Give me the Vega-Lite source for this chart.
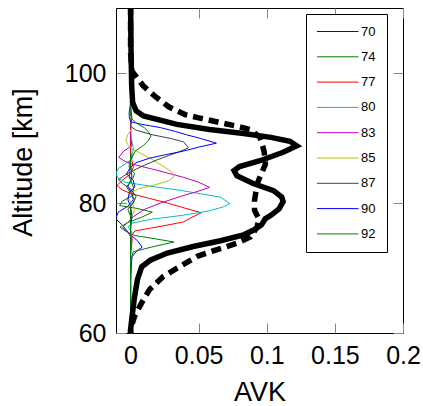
{
  "$schema": "https://vega.github.io/schema/vega-lite/v6.json",
  "width": 287,
  "height": 325,
  "autosize": {"type": "none"},
  "padding": {"left": 116, "top": 8, "right": 20, "bottom": 73},
  "background": "white",
  "config": {"view": {"stroke": "black", "strokeWidth": 1}, "font": "Liberation Sans"},
  "datasets": {
    "kernels": [
      {"k":"70","alt":60,"avk":0},{"k":"70","alt":68,"avk":0},{"k":"70","alt":70,"avk":0.0005},{"k":"70","alt":71.7,"avk":0.001},{"k":"70","alt":72.5,"avk":0.004},{"k":"70","alt":73.2,"avk":0.0085},{"k":"70","alt":74.2,"avk":0.005},{"k":"70","alt":75.3,"avk":-0.001},{"k":"70","alt":76.6,"avk":-0.006},{"k":"70","alt":77.6,"avk":-0.011},{"k":"70","alt":78.6,"avk":-0.009},{"k":"70","alt":79.5,"avk":-0.002},{"k":"70","alt":80.5,"avk":0.002},{"k":"70","alt":81.5,"avk":0.001},{"k":"70","alt":82.5,"avk":-0.002},{"k":"70","alt":84,"avk":0.001},{"k":"70","alt":86,"avk":0},{"k":"70","alt":110,"avk":0},
      {"k":"74","alt":60,"avk":0},{"k":"74","alt":71,"avk":0},{"k":"74","alt":72.5,"avk":0.002},{"k":"74","alt":73.2,"avk":0.015},{"k":"74","alt":74.0,"avk":0.0318},{"k":"74","alt":74.6,"avk":0.015},{"k":"74","alt":75.0,"avk":0.003},{"k":"74","alt":75.7,"avk":-0.004},{"k":"74","alt":76.3,"avk":-0.0077},{"k":"74","alt":77.0,"avk":-0.002},{"k":"74","alt":77.8,"avk":0.008},{"k":"74","alt":78.6,"avk":0.016},{"k":"74","alt":79.2,"avk":0.004},{"k":"74","alt":79.6,"avk":-0.008},{"k":"74","alt":80.3,"avk":-0.006},{"k":"74","alt":81.2,"avk":0.002},{"k":"74","alt":82.5,"avk":0.002},{"k":"74","alt":84,"avk":-0.001},{"k":"74","alt":86,"avk":0},{"k":"74","alt":110,"avk":0},
      {"k":"77","alt":60,"avk":0},{"k":"77","alt":72,"avk":0},{"k":"77","alt":74,"avk":0.001},{"k":"77","alt":75,"avk":0.001},{"k":"77","alt":75.7,"avk":0.003},{"k":"77","alt":76.1,"avk":0.014},{"k":"77","alt":76.6,"avk":0.027},{"k":"77","alt":77.1,"avk":0.039},{"k":"77","alt":77.8,"avk":0.045},{"k":"77","alt":78.5,"avk":0.052},{"k":"77","alt":79.2,"avk":0.040},{"k":"77","alt":80.0,"avk":0.027},{"k":"77","alt":80.7,"avk":0.014},{"k":"77","alt":81.4,"avk":0.001},{"k":"77","alt":82.0,"avk":-0.006},{"k":"77","alt":82.7,"avk":-0.010},{"k":"77","alt":83.5,"avk":-0.006},{"k":"77","alt":84.5,"avk":0},{"k":"77","alt":85.5,"avk":0.002},{"k":"77","alt":86.5,"avk":0.001},{"k":"77","alt":88,"avk":0},{"k":"77","alt":110,"avk":0},
      {"k":"80","alt":60,"avk":0},{"k":"80","alt":74,"avk":0},{"k":"80","alt":75.5,"avk":0.001},{"k":"80","alt":76.3,"avk":-0.002},{"k":"80","alt":76.9,"avk":0.001},{"k":"80","alt":77.5,"avk":0.015},{"k":"80","alt":78.1,"avk":0.038},{"k":"80","alt":78.8,"avk":0.058},{"k":"80","alt":79.4,"avk":0.068},{"k":"80","alt":79.9,"avk":0.073},{"k":"80","alt":80.9,"avk":0.066},{"k":"80","alt":81.9,"avk":0.038},{"k":"80","alt":82.6,"avk":0.014},{"k":"80","alt":83.2,"avk":-0.004},{"k":"80","alt":83.9,"avk":-0.0095},{"k":"80","alt":84.6,"avk":-0.0107},{"k":"80","alt":85.3,"avk":-0.009},{"k":"80","alt":86.0,"avk":-0.004},{"k":"80","alt":86.8,"avk":0.001},{"k":"80","alt":88.5,"avk":0.002},{"k":"80","alt":90,"avk":0.0005},{"k":"80","alt":91.5,"avk":0},{"k":"80","alt":110,"avk":0},
      {"k":"83","alt":60,"avk":0},{"k":"83","alt":73,"avk":0},{"k":"83","alt":74.5,"avk":0.001},{"k":"83","alt":75.5,"avk":-0.002},{"k":"83","alt":76.2,"avk":-0.006},{"k":"83","alt":76.8,"avk":-0.003},{"k":"83","alt":77.9,"avk":0.002},{"k":"83","alt":79.0,"avk":0.010},{"k":"83","alt":80.0,"avk":0.022},{"k":"83","alt":81.1,"avk":0.038},{"k":"83","alt":81.7,"avk":0.048},{"k":"83","alt":82.4,"avk":0.058},{"k":"83","alt":83.2,"avk":0.050},{"k":"83","alt":84.0,"avk":0.038},{"k":"83","alt":85.0,"avk":0.020},{"k":"83","alt":86.0,"avk":0.001},{"k":"83","alt":86.4,"avk":-0.004},{"k":"83","alt":87.0,"avk":-0.0087},{"k":"83","alt":88.0,"avk":-0.005},{"k":"83","alt":88.8,"avk":0.001},{"k":"83","alt":90,"avk":0},{"k":"83","alt":110,"avk":0},
      {"k":"85","alt":60,"avk":0},{"k":"85","alt":77,"avk":0},{"k":"85","alt":78,"avk":0.001},{"k":"85","alt":79,"avk":0.003},{"k":"85","alt":80,"avk":0.001},{"k":"85","alt":80.8,"avk":-0.002},{"k":"85","alt":81.6,"avk":0},{"k":"85","alt":82.2,"avk":0.006},{"k":"85","alt":82.8,"avk":0.018},{"k":"85","alt":83.4,"avk":0.028},{"k":"85","alt":84.1,"avk":0.032},{"k":"85","alt":84.8,"avk":0.030},{"k":"85","alt":85.8,"avk":0.023},{"k":"85","alt":86.8,"avk":0.015},{"k":"85","alt":87.8,"avk":0.006},{"k":"85","alt":88.3,"avk":0.001},{"k":"85","alt":89,"avk":-0.002},{"k":"85","alt":89.6,"avk":-0.0035},{"k":"85","alt":90.5,"avk":-0.002},{"k":"85","alt":91.5,"avk":0.001},{"k":"85","alt":93,"avk":0},{"k":"85","alt":110,"avk":0},
      {"k":"87","alt":60,"avk":0},{"k":"87","alt":78,"avk":0},{"k":"87","alt":79,"avk":-0.002},{"k":"87","alt":80,"avk":0.002},{"k":"87","alt":81,"avk":0.004},{"k":"87","alt":82.2,"avk":0},{"k":"87","alt":83.0,"avk":-0.006},{"k":"87","alt":83.6,"avk":-0.009},{"k":"87","alt":84.3,"avk":-0.004},{"k":"87","alt":85.0,"avk":0.002},{"k":"87","alt":85.8,"avk":0.010},{"k":"87","alt":86.6,"avk":0.019},{"k":"87","alt":87.3,"avk":0.028},{"k":"87","alt":87.9,"avk":0.036},{"k":"87","alt":88.5,"avk":0.0425},{"k":"87","alt":89.4,"avk":0.039},{"k":"87","alt":89.9,"avk":0.030},{"k":"87","alt":90.5,"avk":0.016},{"k":"87","alt":91.2,"avk":0.004},{"k":"87","alt":91.8,"avk":0},{"k":"87","alt":93,"avk":0.001},{"k":"87","alt":95,"avk":0},{"k":"87","alt":110,"avk":0},
      {"k":"90","alt":60,"avk":0},{"k":"90","alt":76,"avk":0},{"k":"90","alt":78,"avk":0.001},{"k":"90","alt":79.5,"avk":0},{"k":"90","alt":80.5,"avk":-0.002},{"k":"90","alt":81.5,"avk":-0.001},{"k":"90","alt":82.5,"avk":0.003},{"k":"90","alt":83.5,"avk":0.002},{"k":"90","alt":84.5,"avk":-0.003},{"k":"90","alt":85.5,"avk":0},{"k":"90","alt":86.2,"avk":0.004},{"k":"90","alt":86.9,"avk":0.014},{"k":"90","alt":87.4,"avk":0.025},{"k":"90","alt":88.0,"avk":0.039},{"k":"90","alt":88.6,"avk":0.050},{"k":"90","alt":89.2,"avk":0.063},{"k":"90","alt":89.9,"avk":0.052},{"k":"90","alt":90.5,"avk":0.041},{"k":"90","alt":91.0,"avk":0.033},{"k":"90","alt":91.6,"avk":0.022},{"k":"90","alt":92.1,"avk":0.008},{"k":"90","alt":92.5,"avk":0},{"k":"90","alt":93.3,"avk":-0.001},{"k":"90","alt":94,"avk":-0.001},{"k":"90","alt":95,"avk":0},{"k":"90","alt":110,"avk":0},
      {"k":"92","alt":60,"avk":0},{"k":"92","alt":78,"avk":0},{"k":"92","alt":79.5,"avk":0},{"k":"92","alt":80.5,"avk":0.003},{"k":"92","alt":81.5,"avk":0},{"k":"92","alt":82.5,"avk":-0.003},{"k":"92","alt":83.5,"avk":0.001},{"k":"92","alt":84.5,"avk":0.003},{"k":"92","alt":85.5,"avk":-0.001},{"k":"92","alt":86.2,"avk":-0.001},{"k":"92","alt":87.0,"avk":0.001},{"k":"92","alt":88.0,"avk":0.0035},{"k":"92","alt":88.9,"avk":0.0097},{"k":"92","alt":89.6,"avk":0.013},{"k":"92","alt":90.3,"avk":0.015},{"k":"92","alt":91.0,"avk":0.013},{"k":"92","alt":91.6,"avk":0.010},{"k":"92","alt":92.2,"avk":0.005},{"k":"92","alt":92.9,"avk":0.001},{"k":"92","alt":93.5,"avk":0},{"k":"92","alt":94.5,"avk":-0.0005},{"k":"92","alt":96,"avk":0},{"k":"92","alt":110,"avk":0}
    ],
    "profiles": [
      {"s":"solid","alt":59,"avk":0},{"s":"solid","alt":60.5,"avk":0},{"s":"solid","alt":62,"avk":0.0008},{"s":"solid","alt":65.1,"avk":0.0026},{"s":"solid","alt":68.2,"avk":0.005},{"s":"solid","alt":70.2,"avk":0.0082},{"s":"solid","alt":71.2,"avk":0.0145},{"s":"solid","alt":72.3,"avk":0.027},{"s":"solid","alt":73.3,"avk":0.046},{"s":"solid","alt":74.2,"avk":0.066},{"s":"solid","alt":75.1,"avk":0.083},{"s":"solid","alt":75.8,"avk":0.090},{"s":"solid","alt":76.6,"avk":0.096},{"s":"solid","alt":77.6,"avk":0.099},{"s":"solid","alt":78.1,"avk":0.103},{"s":"solid","alt":79.1,"avk":0.109},{"s":"solid","alt":80.2,"avk":0.112},{"s":"solid","alt":80.9,"avk":0.111},{"s":"solid","alt":81.9,"avk":0.105},{"s":"solid","alt":83.0,"avk":0.090},{"s":"solid","alt":84.2,"avk":0.078},{"s":"solid","alt":85.0,"avk":0.076},{"s":"solid","alt":85.6,"avk":0.080},{"s":"solid","alt":86.5,"avk":0.095},{"s":"solid","alt":87.8,"avk":0.112},{"s":"solid","alt":88.8,"avk":0.122},{"s":"solid","alt":89.5,"avk":0.117},{"s":"solid","alt":90.1,"avk":0.103},{"s":"solid","alt":90.7,"avk":0.083},{"s":"solid","alt":91.3,"avk":0.058},{"s":"solid","alt":92.1,"avk":0.034},{"s":"solid","alt":93.4,"avk":0.0095},{"s":"solid","alt":94.2,"avk":0.004},{"s":"solid","alt":95.5,"avk":0.0015},{"s":"solid","alt":98,"avk":0.0008},{"s":"solid","alt":104,"avk":0.0003},{"s":"solid","alt":111,"avk":0},
      {"s":"dashed","alt":59,"avk":0},{"s":"dashed","alt":60.6,"avk":0},{"s":"dashed","alt":62.6,"avk":0.003},{"s":"dashed","alt":64.6,"avk":0.008},{"s":"dashed","alt":66.7,"avk":0.014},{"s":"dashed","alt":68.7,"avk":0.024},{"s":"dashed","alt":70.2,"avk":0.036},{"s":"dashed","alt":71.8,"avk":0.049},{"s":"dashed","alt":72.8,"avk":0.063},{"s":"dashed","alt":73.8,"avk":0.078},{"s":"dashed","alt":74.8,"avk":0.088},{"s":"dashed","alt":76.3,"avk":0.093},{"s":"dashed","alt":77.6,"avk":0.094},{"s":"dashed","alt":78.9,"avk":0.091},{"s":"dashed","alt":80.4,"avk":0.091},{"s":"dashed","alt":83.0,"avk":0.093},{"s":"dashed","alt":84.5,"avk":0.096},{"s":"dashed","alt":86.0,"avk":0.099},{"s":"dashed","alt":88.0,"avk":0.098},{"s":"dashed","alt":90.1,"avk":0.095},{"s":"dashed","alt":91.3,"avk":0.088},{"s":"dashed","alt":91.9,"avk":0.076},{"s":"dashed","alt":92.5,"avk":0.063},{"s":"dashed","alt":93.1,"avk":0.050},{"s":"dashed","alt":93.6,"avk":0.040},{"s":"dashed","alt":94.8,"avk":0.028},{"s":"dashed","alt":96.4,"avk":0.018},{"s":"dashed","alt":98.0,"avk":0.0094},{"s":"dashed","alt":100.3,"avk":0.001},{"s":"dashed","alt":103,"avk":0},{"s":"dashed","alt":111,"avk":0}
    ]
  },
  "resolve": {"axis": {"x": "independent", "y": "independent"}},
  "layer": [
    {
      "data": {"name": "kernels"},
      "mark": {"type": "line", "strokeWidth": 1, "clip": true},
      "encoding": {
        "x": {"field": "avk", "type": "quantitative",
          "scale": {"domain": [-0.0107, 0.2], "nice": false, "zero": false},
          "axis": {"orient": "bottom", "values": [0, 0.05, 0.1, 0.15, 0.2], "format": "~g", "domain": false, "grid": false,
            "ticks": true, "tickSize": -10, "tickColor": "#888", "labelFontSize": 25, "labelFont": "Liberation Sans", "labelColor": "black",
            "labelPadding": 20, "labelFlush": false, "labelOverlap": false,
            "title": "AVK", "titleFontSize": 27, "titleFont": "Liberation Sans", "titleFontWeight": "normal", "titleColor": "black",
            "titleY": 67.5, "titleBaseline": "alphabetic"}},
        "y": {"field": "alt", "type": "quantitative",
          "scale": {"domain": [60, 110], "nice": false, "zero": false},
          "axis": {"orient": "left", "values": [60, 80, 100], "domain": false, "grid": false,
            "ticks": true, "tickSize": -10, "tickColor": "#888", "labelFontSize": 25, "labelFont": "Liberation Sans", "labelColor": "black",
            "labelPadding": 20, "labelFlush": false, "labelOverlap": false,
            "title": "Altitude [km]", "titleFontSize": 27, "titleFont": "Liberation Sans", "titleFontWeight": "normal", "titleColor": "black",
            "titleX": -85, "titleY": 154, "titleBaseline": "alphabetic", "titleAlign": "center", "titleAngle": -90}},
        "color": {"field": "k", "type": "nominal",
          "scale": {"domain": ["70", "74", "77", "80", "83", "85", "87", "90", "92"],
            "range": ["#0000ff", "#008000", "#ff0000", "#00bfbf", "#bf00bf", "#bfbf00", "#404040", "#0000ff", "#008000"]},
          "legend": {"orient": "none", "legendX": 190, "legendY": 6, "title": null,
            "symbolType": "stroke", "symbolSize": 1936, "symbolStrokeWidth": 1, "symbolOffset": -3, "clipHeight": 13,
            "symbolFillColor": "transparent",
            "labelFontSize": 13, "labelFont": "Liberation Sans", "labelColor": "black", "labelOffset": 2,
            "strokeColor": "black", "fillColor": "white", "padding": 11, "rowPadding": 11.3, "cornerRadius": 0,
            "encode": {"symbols": {
              "enter": {"stroke": {"scale": "color", "field": "value"}, "strokeWidth": {"value": 1}},
              "update": {"stroke": {"scale": "color", "field": "value"}, "strokeWidth": {"value": 1}, "opacity": {"value": 1}}}}}},
        "order": {"field": "alt", "type": "quantitative"}
      }
    },
    {
      "data": {"name": "profiles"},
      "transform": [{"filter": "datum.s == 'solid'"}],
      "mark": {"type": "line", "color": "black", "strokeWidth": 5.5, "clip": true},
      "encoding": {
        "x": {"field": "avk", "type": "quantitative",
          "axis": {"orient": "top", "values": [0, 0.05, 0.1, 0.15, 0.2], "labels": false, "domain": false, "grid": false, "ticks": true, "tickSize": -10, "tickColor": "#888", "title": null}},
        "y": {"field": "alt", "type": "quantitative",
          "axis": {"orient": "right", "values": [60, 80, 100], "labels": false, "domain": false, "grid": false, "ticks": true, "tickSize": -10, "tickColor": "#888", "title": null}},
        "order": {"field": "alt", "type": "quantitative"}
      }
    },
    {
      "data": {"name": "profiles"},
      "transform": [{"filter": "datum.s == 'dashed'"}],
      "mark": {"type": "line", "color": "black", "strokeWidth": 5.5, "strokeDash": [10, 6], "clip": true},
      "encoding": {
        "x": {"field": "avk", "type": "quantitative", "axis": null},
        "y": {"field": "alt", "type": "quantitative", "axis": null},
        "order": {"field": "alt", "type": "quantitative"}
      }
    }
  ]
}
